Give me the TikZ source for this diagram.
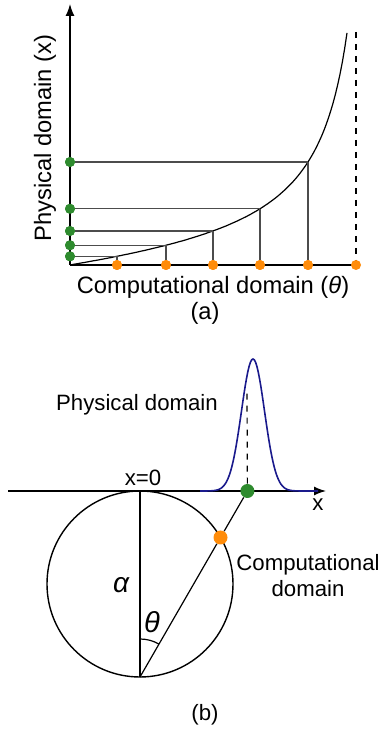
\documentclass[tikz,border=0pt]{standalone}
\usepackage{fontspec}
\setmainfont{Liberation Sans}
\usepackage{xcolor}
\usepackage{tikz}
\usetikzlibrary{arrows.meta}

\definecolor{dotgreen}{HTML}{2E8B2E}
\definecolor{dotorange}{HTML}{FF8C0A}
\definecolor{gaussblue}{HTML}{1A1A8C}

\begin{document}
\begin{tikzpicture}[
  x=0.5pt, y=0.5pt,
  declare function={phys(\u)=0.0901*\u+7647*(1/(310-\u)-1/310);},
  axis/.style={line width=0.65pt, -{Latex[length=6pt,width=4.5pt]}},
  grid/.style={line width=0.6pt, black!70},
  curve/.style={line width=0.6pt},
  gdot/.style={circle, fill=dotgreen, inner sep=0pt, minimum size=5pt},
  odot/.style={circle, fill=dotorange, inner sep=0pt, minimum size=5pt},
  bigg/.style={circle, fill=dotgreen, inner sep=0pt, minimum size=7pt},
  bigo/.style={circle, fill=dotorange, inner sep=0pt, minimum size=7pt},
  lbla/.style={font=\fontsize{11.85}{14}\selectfont, inner sep=0pt},
  lblb/.style={font=\fontsize{11.1}{13}\selectfont, inner sep=0pt}
]
\useasboundingbox (0,0) rectangle (381,730);

% (a) mapping
\coordinate (orig) at (70,465);
\coordinate (ytop) at (70,726);
\coordinate (xend) at (356,465);
\coordinate (asym) at (356,698);
\foreach \i/\u in {1/47, 2/96, 3/143, 4/190, 5/238}
  \coordinate (c\i) at ({70+\u}, {465+phys(\u)});

\draw[curve] plot[domain=0:277, samples=120] ({70+\x}, {465+phys(\x)});
\draw[grid, dashed, black] (asym) -- (xend);

\foreach \i in {1,...,5} {
  \path (c\i |- orig) node[odot] (o\i) {};
  \path (orig |- c\i) node[gdot] (g\i) {};
  \draw[grid] (g\i) -- (c\i);
  \draw[grid] (c\i) -- (o\i);
}
\draw[line width=0.65pt] (orig) -- (xend);
\draw[axis] (orig) -- (ytop);
\foreach \i in {1,...,5} {
  \node[odot] at (o\i) {};
  \node[gdot] at (g\i) {};
}
\node[odot] (o6) at (xend) {};

\node[lbla, rotate=90] (phys) at (45,592) {Physical domain (x)};
\node[lbla] (comp) at (213,443) {Computational domain ({\itshape θ})};
\node[lbla] (capa) at (205,417) {(a)};

% (b) circle
\coordinate (xl) at (8,239);
\coordinate (xr) at (326,239);
\coordinate (top) at (140,239);
\coordinate (ctr) at (140,146);
\coordinate (bot) at (140,53);
\coordinate (peak) at (247,342);

\draw[line width=0.7pt] (ctr) circle[radius=93];
\draw[axis] (xl) -- (xr);
\draw[line width=0.8pt, gaussblue] plot[domain=200:318, samples=90]
  (\x, {239+132*exp(-((\x-253)/11.5)^2/2)});
\draw[line width=0.6pt] (top) -- (bot);
\node[bigg] (gp) at (247.4,239) {};
\node[bigo] (op) at (220.5,192.5) {};
\draw[line width=0.6pt] (bot) -- (op);
\draw[line width=0.6pt] (op) -- (gp);
\draw[line width=0.6pt, dashed] (gp) -- (peak);
\draw[line width=0.6pt] ([shift={(90:38)}]bot) arc[start angle=90, end angle=60, radius=38];

\node[lblb] (xzero) at (143,252) {x=0};
\node[lblb] (xlbl) at (318,225) {x};
\node[lblb] (physb) at (137,325) {Physical domain};
\node[lblb, align=center] (compb) at (308,154) {Computational\\domain};
\node[font=\fontsize{14}{16}\selectfont\itshape, inner sep=0pt] (alpha) at (121,145) {α};
\node[font=\fontsize{14.5}{16}\selectfont\itshape, inner sep=0pt] (theta) at (152,108) {θ};
\node[lblb] (capb) at (205,15) {(b)};
\end{tikzpicture}
\end{document}
